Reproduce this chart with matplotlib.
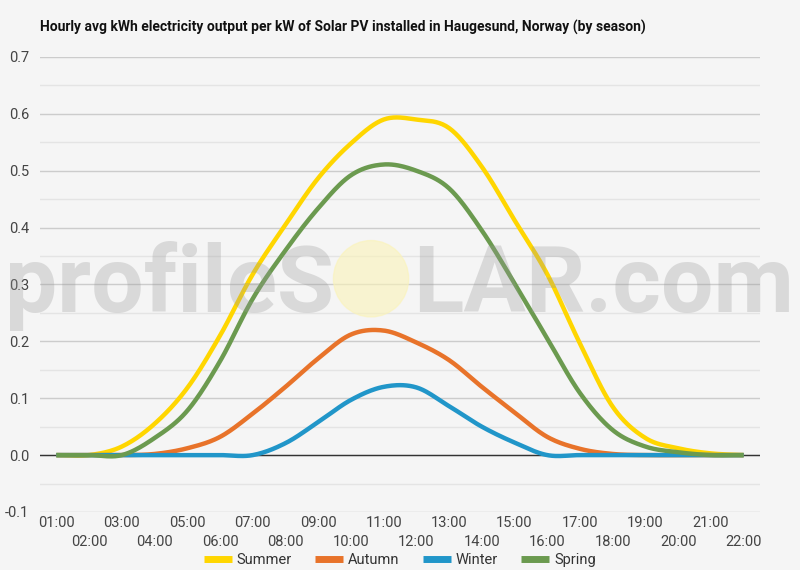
import numpy as np
import matplotlib.pyplot as plt
from matplotlib.patches import Ellipse
from matplotlib.ticker import MultipleLocator

plt.rcParams['font.family'] = ['Roboto', 'DejaVu Sans']

hours = ["01:00", "02:00", "03:00", "04:00", "05:00", "06:00", "07:00", "08:00",
         "09:00", "10:00", "11:00", "12:00", "13:00", "14:00", "15:00", "16:00",
         "17:00", "18:00", "19:00", "20:00", "21:00", "22:00"]

summer = [0, 0, 0.015, 0.055, 0.118, 0.21, 0.318, 0.405, 0.487, 0.548, 0.59,
          0.59, 0.575, 0.507, 0.413, 0.318, 0.196, 0.085, 0.03, 0.012, 0.003, 0]
autumn = [0, 0, 0, 0.002, 0.012, 0.032, 0.073, 0.12, 0.17, 0.212, 0.219,
          0.198, 0.167, 0.12, 0.075, 0.032, 0.011, 0.002, 0, 0, 0, 0]
winter = [0, 0, 0, 0, 0, 0, 0, 0.021, 0.058, 0.097, 0.12,
          0.119, 0.086, 0.05, 0.022, 0, 0, 0, 0, 0, 0, 0]
spring = [0, 0, 0, 0.03, 0.078, 0.165, 0.275, 0.36, 0.434, 0.492, 0.511,
          0.50, 0.469, 0.395, 0.302, 0.205, 0.109, 0.044, 0.015, 0.005, 0, 0]

series = [("Summer", summer, "#FFD600"),
          ("Autumn", autumn, "#E8732A"),
          ("Winter", winter, "#2196C9"),
          ("Spring", spring, "#6B9A4F")]


def smooth(y, n=20):
    # catmull-rom style curve through the hourly points
    y = np.asarray(y, dtype=float)
    m = np.gradient(y)
    xs, ys = [], []
    for i in range(len(y) - 1):
        t = np.linspace(0, 1, n, endpoint=False)
        h00 = 2 * t**3 - 3 * t**2 + 1
        h10 = t**3 - 2 * t**2 + t
        h01 = -2 * t**3 + 3 * t**2
        h11 = t**3 - t**2
        xs.append(i + t)
        ys.append(h00 * y[i] + h10 * m[i] + h01 * y[i + 1] + h11 * m[i + 1])
    xs.append([len(y) - 1])
    ys.append([y[-1]])
    return np.concatenate(xs), np.concatenate(ys)


bg = "#f5f5f5"
fig = plt.figure(figsize=(8, 5.7), dpi=100, facecolor=bg)
ax = fig.add_axes([0.05, 0.1018, 0.9, 0.7982], facecolor=bg)

for name, vals, col in series:
    sx, sy = smooth(vals)
    ax.plot(sx, sy, color=col, lw=3.2, label=name, solid_capstyle="butt", zorder=3)

ax.axhline(0, color="#333333", lw=1, zorder=2)
ax.set_xlim(-0.5, len(hours) - 0.5)
ax.set_ylim(-0.1, 0.7)
ax.yaxis.set_major_locator(MultipleLocator(0.1))
ax.yaxis.set_minor_locator(MultipleLocator(0.05))
ax.grid(which="major", axis="y", color="#cccccc", lw=1)
ax.grid(which="minor", axis="y", color="#e4e4e4", lw=1)
ax.set_axisbelow(True)
for s in ax.spines.values():
    s.set_visible(False)

ax.set_xticks(range(len(hours)))
ax.set_xticklabels([h if i % 2 == 0 else "\n" + h for i, h in enumerate(hours)],
                   linespacing=1.45)
ax.set_yticks(np.arange(-0.1, 0.71, 0.1))
ax.set_yticklabels([f"{v:.1f}" for v in np.arange(-0.1, 0.71, 0.1)])
ax.tick_params(which="both", length=0, labelsize=10.5, labelcolor="#444444")
ax.tick_params(axis="y", pad=8)
ax.tick_params(axis="x", pad=3)

fig.text(0.05, 0.951, "Hourly avg kWh electricity output per kW of Solar PV installed in "
         "Haugesund, Norway (by season)", fontsize=10, fontweight="bold",
         color="#111111", va="center", ha="left")

# watermark
wm = dict(fontsize=67, fontweight="bold", color="#9a9a9a", alpha=0.3,
          ha="left", va="baseline", zorder=10)
fig.text(0.006, 0.452, "profileS", **wm)
fig.text(0.516, 0.452, "LAR.com", **wm)
fig.patches.append(Ellipse((0.4638, 0.511), 0.094, 0.134, transform=fig.transFigure,
                           color="#fbf3b8", alpha=0.6, zorder=9))

fig.legend(loc="lower center", ncol=4, bbox_to_anchor=(0.5, -0.018), frameon=False,
           fontsize=10.5, handlelength=1.9, columnspacing=1.6, handletextpad=0.35,
           labelcolor="#333333")
for h in fig.legends[0].legend_handles:
    h.set_linewidth(5)

fig.savefig("out.png", dpi=100, facecolor=bg)
